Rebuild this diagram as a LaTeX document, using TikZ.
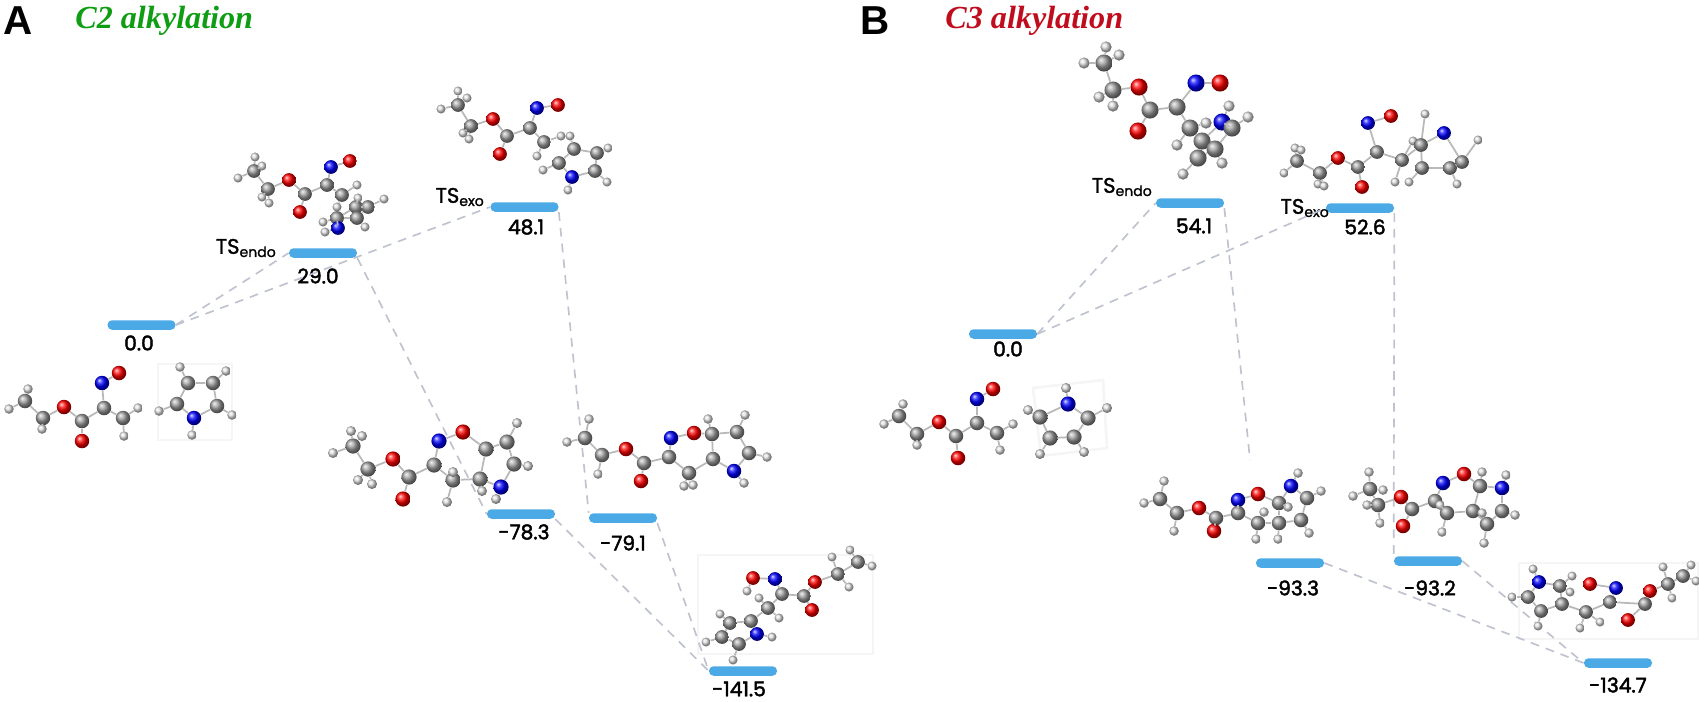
\documentclass[tikz,border=0pt]{standalone}
\usepackage{fontspec}
\setmainfont{Poppins}
\newfontfamily\titlefont{Liberation Serif}
\newfontfamily\letterfont{Liberation Sans}
\newfontfamily\levelfont[FakeBold=2.2]{Poppins}
\newfontfamily\tsfont[FakeBold=1.4]{Poppins}
\definecolor{barblue}{HTML}{4BAAE6}
\definecolor{linkgray}{HTML}{BFC3CF}
\definecolor{framegray}{HTML}{F5F5F5}
\definecolor{titlegreen}{HTML}{0F9D14}
\definecolor{titlered}{HTML}{C00D1E}
\newcommand{\az}{1}
\tikzset{
  level/.style={fill=barblue, rounded corners=0.09cm, minimum width=1.36cm, minimum height=0.19cm, inner sep=0pt},
  energy/.style={font=\levelfont\fontsize{11.5}{12}\selectfont, inner sep=0pt},
  tslabel/.style={font=\tsfont\fontsize{12}{12}\selectfont, inner sep=0pt},
  link/.style={draw=linkgray, line width=0.95pt, dash pattern=on 5pt off 4pt},
  frame/.style={draw=framegray, line width=1.5pt},
  atom/.style={circle, inner sep=0pt, shade, shading=ball},
  C/.style={atom, ball color=gray!75, minimum size=0.29cm*\az},
  N/.style={atom, ball color=blue, minimum size=0.29cm*\az},
  O/.style={atom, ball color=red, minimum size=0.29cm*\az},
  H/.style={atom, ball color=gray!25, minimum size=0.19cm*\az},
  bond/.style={draw=gray!55, line width=1pt}
}
% atoms: name/x/y/element, bonds: name/name
\newcommand{\mol}[4][1]{%
  \renewcommand{\az}{#1}%
  \foreach \n/\x/\y/\e in {#3} \node[\e] (#2\n) at (\x,\y) {};
  \foreach \a/\b in {#4} \draw[bond] (#2\a) -- (#2\b);
}
\begin{document}
\begin{tikzpicture}[x=0.02cm, y=-0.02cm]
  \useasboundingbox (0,0) rectangle (1699,701);

  % Titoli
  \node[anchor=base west, inner sep=0pt, font=\letterfont\fontsize{23}{23}\selectfont\bfseries] (panelA) at (3,34) {A};
  \node[anchor=base west, inner sep=0pt, font=\letterfont\fontsize{23}{23}\selectfont\bfseries] (panelB) at (860,34) {B};
  \node[anchor=base west, inner sep=0pt, text=titlegreen, font=\titlefont\fontsize{18.3}{18}\selectfont\bfseries\itshape] (titleA) at (75,28) {C2 alkylation};
  \node[anchor=base west, inner sep=0pt, text=titlered, font=\titlefont\fontsize{18.3}{18}\selectfont\bfseries\itshape] (titleB) at (945,28) {C3 alkylation};

  % Cornici
  \draw[frame] (158,364) rectangle (232,440);
  \draw[frame] (698,555) rectangle (873,654);
  \draw[frame] (1033,388) -- (1103,380) -- (1107,448) -- (1041,456) -- cycle;
  \draw[frame] (1519,563) rectangle (1698,639);

  % Livelli
  \node[level] (reactA) at (141.5,325) {};
  \node[level] (endoA) at (323,253) {};
  \node[level] (exoA) at (524.5,207) {};
  \node[level] (prodendoA) at (521,514) {};
  \node[level] (prodexoA) at (623,518) {};
  \node[level] (finalA) at (743,671) {};
  \node[level] (reactB) at (1003,334) {};
  \node[level] (endoB) at (1190,203) {};
  \node[level] (exoB) at (1360,208) {};
  \node[level] (prodendoB) at (1290,563) {};
  \node[level] (prodexoB) at (1428,561) {};
  \node[level] (finalB) at (1618,663) {};
  \coordinate (endoBend) at (1250,460);

  % Energie
  \node[energy] (e1) at (139,343) {0.0};
  \node[energy] (e2) at (318,276) {29.0};
  \node[energy] (e3) at (526,227) {48.1};
  \node[energy] (e4) at (524,532) {-78.3};
  \node[energy] (e5) at (623,543) {-79.1};
  \node[energy] (e6) at (739,689) {-141.5};
  \node[energy] (e7) at (1008,349) {0.0};
  \node[energy] (e8) at (1194,226) {54.1};
  \node[energy] (e9) at (1365,227) {52.6};
  \node[energy] (e10) at (1293,588) {-93.3};
  \node[energy] (e11) at (1430,588) {-93.2};
  \node[energy] (e12) at (1618,685) {-134.7};
  \node[tslabel, anchor=east] (tsA1) at (277,248) {TS\textsubscript{endo}};
  \node[tslabel, anchor=east] (tsA2) at (485,197) {TS\textsubscript{exo}};
  \node[tslabel, anchor=east] (tsB1) at (1153,187) {TS\textsubscript{endo}};
  \node[tslabel, anchor=east] (tsB2) at (1330,208) {TS\textsubscript{exo}};

  % Collegamenti
  \draw[link] (reactA.east) -- (endoA.west);
  \draw[link] (reactA.east) -- (exoA.west);
  \draw[link] (endoA.south east) -- (prodendoA.west);
  \draw[link] (exoA.south east) -- (prodexoA.north west);
  \draw[link] (prodendoA.south east) -- (finalA.west);
  \draw[link] (prodexoA.south east) -- (finalA.west);
  \draw[link] (reactB.east) -- (endoB.west);
  \draw[link] (reactB.east) -- (exoB.west);
  \draw[link] (endoB.south east) -- (endoBend);
  \draw[link] (exoB.south east) -- (prodexoB.north west);
  \draw[link] (prodendoB.east) -- (finalB.west);
  \draw[link] (prodexoB.east) -- (finalB.west);

  % Reagenti A
  \mol{ra}{1/28/389/H,2/25/401/C,3/9/409/H,4/43/418/C,5/42/429/H,6/64/407/O,7/82/421/C,8/82/441/O,9/104/408/C,10/102/383/N,11/119/373/O,12/123/418/C,13/138/408/H,14/124/436/H}
    {1/2,2/3,2/4,4/5,4/6,6/7,7/8,7/9,9/10,10/11,9/12,12/13,12/14}
  \mol{pa}{1/188/383/C,2/213/383/C,3/180/367/H,4/226/371/H,5/177/404/C,6/217/406/C,7/159/411/H,8/232/415/H,9/194/418/N,10/192/435/H}
    {1/2,1/3,2/4,1/5,2/6,5/7,6/8,5/9,6/9,9/10}

  % TS endo A
  \mol[0.95]{ta}{1/255/157/H,2/254/171/C,3/262/166/H,4/238/178/H,5/268/189/C,6/269/203/H,7/289/180/O,8/305/194/C,9/300/212/O,10/327/185/C,11/331/167/N,12/350/161/O,13/342/195/C,14/357/185/H,15/337/207/H,16/356/207/C,17/368/207/C,18/384/199/H,19/357/218/C,20/337/218/C,21/338/228/N,22/323/222/H,23/325/232/H,24/365/227/H,25/358/198/H,26/262/197/H}
    {1/2,2/3,2/4,2/5,5/6,5/7,5/26,7/8,8/9,8/10,10/11,11/12,10/13,13/14,13/15,16/17,17/18,17/19,19/20,20/21,20/22,21/23,19/24,16/25,16/20}

  % TS exo A
  \mol[0.95]{tb}{1/458/91/H,2/467/98/H,3/458/105/C,4/441/109/H,5/471/126/C,6/463/133/H,7/469/139/H,8/493/119/O,9/507/136/C,10/500/154/O,11/530/128/C,12/537/108/N,13/558/105/O,14/544/142/C,15/561/136/H,16/570/136/H,17/537/156/H,18/574/149/C,19/597/153/C,20/559/163/C,21/595/171/C,22/572/177/N,23/568/190/H,24/543/170/H,25/608/148/H,26/607/182/H}
    {1/3,2/3,3/4,3/5,5/6,5/7,5/8,8/9,9/10,9/11,11/12,12/13,11/14,14/15,14/17,18/16,18/19,18/20,19/21,20/22,21/22,22/23,20/24,19/25,21/26}

  % Prodotto endo A
  \mol[1.05]{pb}{1/351/431/H,2/362/436/H,3/353/446/C,4/333/453/H,5/368/469/C,6/358/480/H,7/372/484/H,8/393/459/O,9/409/477/C,10/403/499/O,11/434/465/C,12/439/441/N,13/463/432/O,14/453/480/C,15/453/472/H,16/447/502/H,17/480/479/C,18/482/491/H,19/486/449/C,20/507/442/C,21/517/423/H,22/514/464/C,23/528/466/H,24/501/487/N,25/496/499/H}
    {1/3,2/3,3/4,3/5,5/6,5/7,5/8,8/9,9/10,9/11,11/12,12/13,11/14,14/16,14/17,17/18,17/19,13/19,19/20,20/21,20/22,22/23,22/24,17/24,24/25}

  % Prodotto exo A
  \mol{pc}{1/589/419/H,2/585/438/C,3/567/442/H,4/602/455/C,5/598/474/H,6/626/449/O,7/644/463/C,8/641/481/O,9/669/457/C,10/671/438/N,11/694/433/O,12/689/473/C,13/684/486/H,14/693/485/H,15/713/459/C,16/712/434/C,17/708/419/H,18/737/432/C,19/745/415/H,20/749/453/C,21/767/457/H,22/734/471/N,23/744/483/H}
    {1/2,2/3,2/4,4/5,4/6,6/7,7/8,7/9,9/10,10/11,9/12,12/13,12/14,12/15,15/16,16/17,16/18,11/16,18/19,18/20,20/21,20/22,15/22,22/23}

  % Prodotto finale A
  \mol[0.95]{pd}{1/753/578/O,2/775/579/N,3/747/591/H,4/782/594/C,5/804/596/C,6/815/582/O,7/812/610/O,8/768/608/C,9/759/598/H,10/779/618/H,11/751/621/C,12/730/623/C,13/720/614/H,14/722/637/C,15/706/642/H,16/757/634/N,17/772/637/H,18/739/644/C,19/733/660/H,20/838/574/C,21/832/557/H,22/849/587/H,23/858/562/C,24/872/566/H,25/850/550/H}
    {1/2,1/3,2/4,4/5,5/6,5/7,4/8,8/9,8/10,8/11,11/12,12/13,12/14,14/15,11/16,16/17,14/18,16/18,18/19,6/20,20/21,20/22,20/23,23/24,23/25}

  % Reagenti B
  \mol{rb}{1/903/404/H,2/899/416/C,3/884/424/H,4/917/434/C,5/917/445/H,6/939/422/O,7/956/436/C,8/958/458/O,9/977/423/C,10/977/399/N,11/993/389/O,12/997/433/C,13/1013/424/H,14/1000/450/H}
    {1/2,2/3,2/4,4/5,4/6,6/7,7/8,7/9,9/10,10/11,9/12,12/13,12/14}
  \mol[1.05]{pe}{1/1068/404/N,2/1040/417/C,3/1050/438/C,4/1074/437/C,5/1088/418/C,6/1028/410/H,7/1107/408/H,8/1084/452/H,9/1040/454/H,10/1066/388/H}
    {1/2,2/3,3/4,4/5,5/1,2/6,5/7,4/8,3/9,1/10}

  % TS endo B
  \mol[1.18]{tc}{1/1106/47/H,2/1119/55/H,3/1104/63/C,4/1084/63/H,5/1113/90/C,6/1099/97/H,7/1113/106/H,8/1139/87/O,9/1150/110/C,10/1138/131/O,11/1177/107/C,12/1196/83/N,13/1220/83/O,14/1190/128/C,15/1206/123/H,16/1222/122/N,17/1229/106/H,18/1232/128/C,19/1248/117/H,20/1202/141/C,21/1215/149/C,22/1198/158/C,23/1177/145/H,24/1222/163/H,25/1183/174/H}
    {1/3,2/3,3/4,3/5,5/6,5/7,5/8,8/9,9/10,9/11,11/12,12/13,11/14,14/15,14/20,16/17,16/18,18/19,18/21,16/20,20/22,21/22,21/24,22/25,14/23}

  % TS exo B
  \mol[0.95]{td}{1/1295/148/H,2/1301/150/H,3/1297/161/C,4/1284/173/H,5/1320/173/C,6/1318/184/H,7/1324/186/H,8/1338/158/O,9/1358/167/C,10/1362/187/O,11/1377/152/C,12/1368/123/N,13/1391/116/O,14/1402/160/C,15/1395/182/H,16/1413/141/H,17/1421/145/C,18/1422/168/C,19/1444/133/N,20/1450/168/C,21/1425/114/H,22/1462/162/C,23/1478/140/H,24/1457/184/H,25/1409/182/H}
    {1/3,2/3,3/4,3/5,5/6,5/7,5/8,8/9,9/10,9/11,11/12,12/13,11/14,14/15,14/16,14/17,17/18,17/19,18/20,20/22,19/22,17/21,22/23,20/24,18/25}

  % Prodotto endo B
  \mol{pf}{1/1164/481/H,2/1160/499/C,3/1144/503/H,4/1177/513/C,5/1174/531/H,6/1199/508/O,7/1216/518/C,8/1214/531/O,9/1238/500/N,10/1258/494/O,11/1238/513/C,12/1258/523/C,13/1264/512/H,14/1256/539/H,15/1279/523/C,16/1278/539/H,17/1279/503/C,18/1288/507/H,19/1291/486/N,20/1298/473/H,21/1307/498/C,22/1321/491/H,23/1301/520/C,24/1309/533/H}
    {1/2,2/3,2/4,4/5,4/6,6/7,7/8,7/11,9/11,9/10,10/17,11/12,12/13,12/14,12/15,15/16,15/17,17/18,17/19,19/20,19/21,21/22,21/23,23/24,15/23}

  % Prodotto exo B
  \mol{pg}{1/1369/472/H,2/1370/489/C,3/1353/496/H,4/1383/490/H,5/1378/505/C,6/1367/505/H,7/1380/523/H,8/1401/497/O,9/1412/509/C,10/1403/526/O,11/1435/501/C,12/1443/483/N,13/1464/474/O,14/1447/513/C,15/1440/505/H,16/1442/532/H,17/1473/511/C,18/1482/513/H,19/1480/486/C,20/1482/472/H,21/1502/488/N,22/1506/475/H,23/1502/511/C,24/1515/515/H,25/1487/524/C,26/1484/543/H}
    {1/2,2/3,2/4,2/5,5/6,5/7,5/8,8/9,9/10,9/11,11/12,12/13,11/14,14/15,14/16,14/17,17/19,13/19,19/20,19/21,21/22,21/23,23/24,23/25,17/25,25/26}

  % Prodotto finale B
  \mol[0.95]{ph}{1/1533/569/H,2/1539/582/N,3/1560/586/C,4/1572/576/H,5/1570/592/H,6/1590/584/O,7/1528/597/C,8/1512/597/H,9/1541/611/C,10/1538/626/H,11/1562/604/C,12/1586/612/C,13/1580/628/H,14/1600/622/H,15/1616/588/N,16/1610/602/C,17/1645/604/C,18/1650/591/O,19/1628/620/O,20/1668/584/C,21/1683/576/C,22/1663/567/H,23/1672/598/H,24/1691/565/H,25/1696/581/H}
    {1/2,2/3,3/4,3/5,3/11,2/7,7/8,7/9,9/10,9/11,11/12,12/13,12/14,12/16,6/15,15/16,16/17,17/18,17/19,18/20,20/22,20/23,20/21,21/24,21/25}
\end{tikzpicture}
\end{document}
